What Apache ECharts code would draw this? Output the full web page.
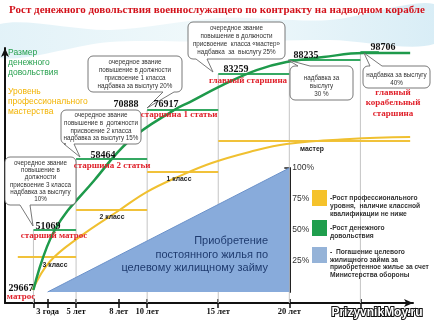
<!DOCTYPE html>
<html><head><meta charset="utf-8">
<script src="https://cdn.jsdelivr.net/npm/echarts@6/dist/echarts.min.js"></script>
<style>html,body{margin:0;padding:0;background:#fff}#c{width:434px;height:322px}</style>
</head><body><div id="c"></div>
<script>
// ---- data (hidden vertical scale: 0..100 = loan repaid share) ----
const title = 'Рост денежного довольствия военнослужащего по контракту на надводном корабле';
const payYears    = [2.0, 3.5, 6.3, 8.8, 11.9, 13.0, 15.3, 17.7, 19.8, 22.4, 25.2, 28.5];
const payLevels   = [1.6, 50, 90.3, 122.6, 146.8, 153.2, 166.9, 179, 185.5, 189.5, 192.7, 192.7];
const skillYears  = [1.94, 3.13, 5.25, 8.06, 9.96, 12.29, 14.54, 17.2, 19.8, 24.26, 28.5];
const skillLevels = [1.6, 24.2, 44.4, 66.1, 80.6, 93.5, 104, 112.9, 119.4, 123.4, 125];
const salaries = [29667, 51069, 58464, 70888, 76917, 83259, 88235, 98706];
const ranks = ['матрос', 'старший матрос', 'старшина 2 статьи', 'старшина 1 статьи', 'главный старшина', 'главный\nкорабельный\nстаршина'];
const payStepStart = [2, 5, 10, 15, 20, 25];
const payStepEnd   = [5, 10, 15, 20, 25, 26.3];
const payStepLevel = [50, 107.3, 146.8, 175.8, 187.1, 193.5];
const classes    = ['3 класс', '2 класс', '1 класс', 'мастер'];
const classStart = [0.9, 5, 10, 15];
const classEnd   = [5, 10, 15, 28.5];
const classLevel = [28.2, 66.1, 96.8, 121.8];
const loanYears = [3, 20];
const loanShare = [0, 100];
const tickYears  = [2, 3, 5, 8, 10, 15, 20, 25];
const labelYears = [3, 5, 8, 10, 15, 20];
const labelText  = ['3 года', '5 лет', '8 лет', '10 лет', '15 лет', '20 лет'];
const loanTicks  = [25, 50, 75, 100];
const callTexts = [
  ['очередное звание', 'повышение в', 'должности', 'присвоение 3 класса', 'надбавка за выслугу', '10%'],
  ['очередное звание', 'повышение в  должности', 'присвоение 2 класса', 'надбавка за выслугу 15%'],
  ['очередное звание', 'повышение в должности', 'присвоение 1 класса', 'надбавка за выслугу 20%'],
  ['очередное звание', 'повышение в должности', 'присвоение  класса «мастер»', 'надбавка  за  выслугу 25%'],
  ['надбавка за', 'выслугу', '30 %'],
  ['надбавка за выслугу', '40%']
];
const legendTexts = [
  ['-Рост профессионального', 'уровня,  наличие классной', 'квалификации не ниже'],
  ['-Рост денежного', 'довольствия'],
  ['-  Погашение целевого', 'жилищного займа за', 'приобретенное жилье за счет', 'Министерства обороны']
];
const housingText = ['Приобретение', 'постоянного жилья по', 'целевому жилищному займу'];

// ---- layout (pixels) ----
const salaryPos = [[21,288],[48,226],[103,155],[126,104],[166,104],[236,69],[306,55],[383,47]];
const rankPos = [[21,297],[54,236],[112,166],[179,115],[248,81],[393,103]];
const classPos = [[55,265],[112,217],[179,179],[312,149]];
const callBoxes = [
  {x:5, y:157, w:71, h:48, y0:163, dy:7.3, tail:{side:'bottom', a:20, b:30, tx:33, ty:226}},
  {x:61, y:110, w:80, h:34, y0:115.5, dy:7.7, tail:{side:'bottom', a:64, b:74, tx:80, ty:157}},
  {x:88, y:56, w:94, h:36, y0:62, dy:8.2, tail:{side:'bottom', a:163, b:174, tx:147, ty:108}},
  {x:188, y:22, w:97, h:37, y0:28, dy:8, tail:{side:'bottom', a:196, b:207, tx:213, ty:72}},
  {x:290, y:66, w:63, h:34, y0:78, dy:8.3, tail:{side:'top', a:298, b:310, tx:288, ty:60}},
  {x:363, y:66, w:67, h:22, y0:75, dy:8, tail:{side:'top', a:370, b:382, tx:364, ty:53}}
];

const SERIF = '"Liberation Serif", "DejaVu Serif", serif';
const SANS = '"Liberation Sans", Arial, sans-serif';

function txt(s, x, y, font, fill, align, extra) {
  align = align || 'center';
  return {type:'text', z:60, silent:true, style: Object.assign({
    text:s, x:x, y:y, font:font, fill:fill, align:align, verticalAlign:'middle'}, extra || {})};
}
function arc(pts, cx, cy, r, a0, a1) {
  for (let k = 0; k <= 4; k++) {
    const a = (a0 + (a1 - a0) * k / 4) * Math.PI / 180;
    pts.push([cx + r * Math.cos(a), cy + r * Math.sin(a)]);
  }
}
function calloutPoints(b) {
  const x=b.x, y=b.y, w=b.w, h=b.h, r=5, t=b.tail, pts=[];
  arc(pts, x+r, y+r, r, 180, 270);
  if (t.side==='top') { pts.push([t.a,y],[t.tx,t.ty],[t.b,y]); }
  arc(pts, x+w-r, y+r, r, 270, 360);
  arc(pts, x+w-r, y+h-r, r, 0, 90);
  if (t.side==='bottom') { pts.push([t.b,y+h],[t.tx,t.ty],[t.a,y+h]); }
  arc(pts, x+r, y+h-r, r, 90, 180);
  return pts;
}

const graphics = [];
graphics.push({type:'polygon', z:-10, silent:true,
  shape:{points:[[0,24],[110,30],[220,18],[330,20],[434,4],[434,44],[330,40],[220,42],[110,42],[0,58]], smooth:0.3},
  style:{fill:new echarts.graphic.LinearGradient(0,0,1,0,[{offset:0,color:'#e2f2f8'},{offset:0.5,color:'#f1f9fb'},{offset:1,color:'#d8edf6'}])}});
graphics.push(txt(title, 217, 10, 'bold 11px '+SERIF, '#d3121b'));
['Размер','денежного','довольствия'].forEach((s,i)=>graphics.push(txt(s, 8, 53+i*10, '8.5px '+SANS, '#27a04e', 'left')));
['Уровень','профессионального','мастерства'].forEach((s,i)=>graphics.push(txt(s, 8, 92+i*9.6, '8.5px '+SANS, '#f2b300', 'left')));
callBoxes.forEach((b,k)=>{
  graphics.push({type:'polygon', z:50, silent:true, shape:{points:calloutPoints(b)}, style:{fill:'#fff', stroke:'#6a6a6a', lineWidth:0.9}});
  callTexts[k].forEach((s,i)=>graphics.push(txt(s, b.x+b.w/2, b.y0+i*b.dy, '6.3px '+SANS, '#333')));
});
salaries.forEach((v,i)=>graphics.push(txt(String(v), salaryPos[i][0], salaryPos[i][1], 'bold 10px '+SERIF, '#111')));
ranks.forEach((s,i)=>graphics.push(txt(s, rankPos[i][0], rankPos[i][1], 'bold 9px '+SERIF, '#e0212b', 'center', {lineHeight:10.5})));
classes.forEach((s,i)=>graphics.push(txt(s, classPos[i][0], classPos[i][1], 'bold 6.8px '+SANS, '#222')));
housingText.forEach((s,i)=>graphics.push(txt(s, 268, 241+i*13.5, '11px '+SANS, '#1f3b6f', 'right')));
const legColors = ['#f5c22b', '#1f9e4d', '#95b3d8'];
const legBoxY = [190, 220, 247];
const legTextY = [198, 228, 252];
const legDy = [8, 8, 7.8];
legColors.forEach((c,i)=>{
  graphics.push({type:'rect', z:50, silent:true, shape:{x:312, y:legBoxY[i], width:15, height:16}, style:{fill:c}});
  legendTexts[i].forEach((s,j)=>graphics.push(txt(s, 330, legTextY[i]+j*legDy[i], 'bold 6.7px '+SANS, '#333', 'left')));
});
graphics.push(txt('PrizyvnikMoy.ru', 377, 313, 'bold 12px '+SANS, '#fff', 'center', {stroke:'#111', lineWidth:2, strokeFirst:true}));

function seg(p0, p1, color, width, z) {
  return {type:'line', xAxisIndex:0, yAxisIndex:0, z:z, silent:true, symbol:'none', data:[p0, p1],
          lineStyle:{color:color, width:width}};
}
const series = [];
payStepStart.forEach((x,i)=>series.push(seg([x,-8.9],[x,payStepLevel[i]],'#c4c4c4',1,1)));
series.push({type:'line', xAxisIndex:0, yAxisIndex:0, z:2, silent:true, symbol:'none',
  data: loanYears.map((x,i)=>[x, loanShare[i]]),
  lineStyle:{color:'#6c92ca', width:1}, areaStyle:{color:'#88abdb', opacity:1}});
classStart.forEach((x,i)=>series.push(seg([x,classLevel[i]],[classEnd[i],classLevel[i]],'#f1c23a',2,3)));
payStepStart.forEach((x,i)=>series.push(seg([x,payStepLevel[i]],[payStepEnd[i],payStepLevel[i]],'#35a862',2,3)));
series.push({type:'line', xAxisIndex:0, yAxisIndex:0, z:4, silent:true, symbol:'none', smooth:0.4,
  data: skillYears.map((x,i)=>[x, skillLevels[i]]), lineStyle:{color:'#f0c030', width:2}});
series.push({type:'line', xAxisIndex:0, yAxisIndex:0, z:4, silent:true, symbol:'none', smooth:0.4,
  data: payYears.map((x,i)=>[x, payLevels[i]]), lineStyle:{color:'#1e9a4b', width:2.5}});

const chart = echarts.init(document.getElementById('c'), null, {renderer:'canvas'});
chart.setOption({
  animation:false,
  backgroundColor:'#fff',
  grid:[
    {left:5, right:21, top:48, bottom:19},
    {left:289.3, top:168, width:10, height:124}
  ],
  xAxis:[
    {gridIndex:0, type:'value', min:0, max:28.7, position:'bottom',
     axisLine:{show:true, onZero:false, symbol:['none','arrow'], symbolSize:[6,9], lineStyle:{color:'#111', width:2}},
     axisTick:{show:true, length:5, customValues:tickYears, lineStyle:{color:'#111', width:1.5}},
     axisLabel:{show:true, customValues:labelYears, formatter:v=>{const k=labelYears.indexOf(v); return k<0?'':labelText[k];}, fontFamily:'Liberation Serif', fontWeight:'bold', fontSize:8.5, color:'#111', margin:4},
     splitLine:{show:false}},
    {gridIndex:0, type:'value', min:0, max:28.7, position:'bottom', offset:0,
     axisLine:{show:false, onZero:false},
     axisTick:{show:true, inside:true, length:4, customValues:tickYears, lineStyle:{color:'#111', width:1.5}},
     axisLabel:{show:false}, splitLine:{show:false}},
    {gridIndex:1, type:'value', show:false, min:0, max:1}
  ],
  yAxis:[
    {gridIndex:0, type:'value', min:-8.9, max:196.8,
     axisLine:{show:true, onZero:false, symbol:['none','arrow'], symbolSize:[6,9], lineStyle:{color:'#111', width:2}},
     axisTick:{show:false}, axisLabel:{show:false}, splitLine:{show:false}},
    {gridIndex:1, type:'value', min:0, max:100, position:'left',
     axisLine:{show:true, onZero:false, lineStyle:{color:'#222', width:2}},
     axisTick:{show:true, length:5, customValues:loanTicks, lineStyle:{color:'#222', width:1.5}},
     axisLabel:{show:true, inside:true, customValues:loanTicks, formatter:v=>(v>0?v+'%':''), fontFamily:'Liberation Sans', fontSize:8.5, color:'#333', margin:3},
     splitLine:{show:false}}
  ],
  series:series,
  graphic:{elements:graphics}
});
</script>
</body></html>
